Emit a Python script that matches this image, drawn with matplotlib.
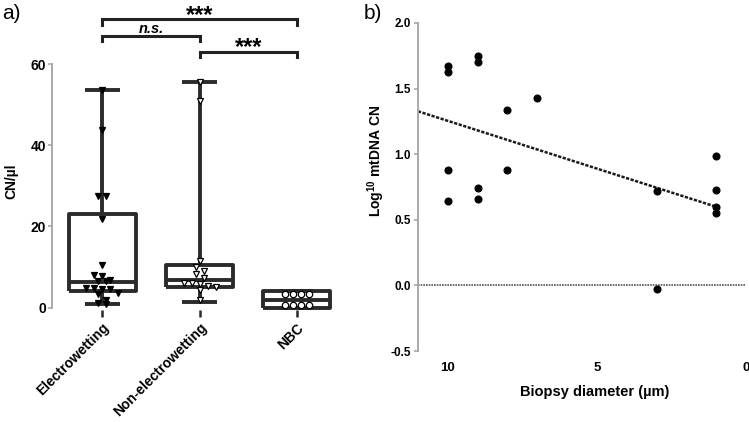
import numpy as np
import matplotlib
matplotlib.use("Agg")
import matplotlib.pyplot as plt

plt.rcParams['font.family'] = ['Liberation Sans', 'DejaVu Sans']
plt.rcParams['font.weight'] = 'bold'
plt.rcParams['axes.unicode_minus'] = False
plt.rcParams['mathtext.fontset'] = 'custom'
plt.rcParams['mathtext.rm'] = 'Liberation Sans:bold'
plt.rcParams['mathtext.bf'] = 'Liberation Sans:bold'

# ---- panel a data (CN/ul) ----
groups = ['Electrowetting', 'Non-electrowetting', 'NBC']
electrowetting = [53.7, 43.7, 27.4, 27.4, 21.8, 10.6, 8.1, 7.9, 6.8, 6.6, 6.6,
                  4.8, 4.8, 4.7, 4.6, 3.6, 3.3, 1.9, 1.1, 0.8]
non_electrowetting = [55.7, 51.0, 11.6, 9.9, 9.0, 8.2, 7.4, 6.0, 6.0, 5.8, 5.3,
                      5.2, 4.4, 1.8]
nbc = [3.4, 3.4, 3.4, 3.4, 0.6, 0.6, 0.6, 0.6]
# box statistics as drawn (min, q1, median, q3, max)
box_min = [0.8, 1.5, 0.0]
box_q1 = [4.1, 5.0, 0.0]
box_med = [6.3, 6.9, 2.0]
box_q3 = [23.0, 10.4, 4.0]
box_max = [53.7, 55.7, 4.0]
# significance brackets: (left group, right group, label, height)
brackets = [(0, 2, '***', 71.1), (0, 1, 'n.s.', 67.0), (1, 2, '***', 63.1)]

# ---- panel b data ----
diameter = [10, 10, 10, 10, 9, 9, 9, 9, 8, 8, 7, 3, 3, 1, 1, 1, 1]
log_cn = [1.67, 1.63, 0.88, 0.64, 1.75, 1.70, 0.74, 0.66, 1.34, 0.88, 1.43,
          0.72, -0.03, 0.99, 0.73, 0.60, 0.55]

DARK = '#2b2b2b'
GREY = '#a8a8a8'

fig = plt.figure(figsize=(7.49, 4.22), dpi=100)


def row_offsets(values, row_gap, step):
    """Centre points of similar height side by side (simple swarm)."""
    order = np.argsort(values)[::-1]
    offs = np.zeros(len(values))
    rows = []
    for i in order:
        if rows and rows[-1][0] - values[i] < row_gap:
            rows[-1][1].append(i)
        else:
            rows.append([values[i], [i]])
    for _, idx in rows:
        n = len(idx)
        for k, i in enumerate(idx):
            offs[i] = (k - (n - 1) / 2) * step
    return offs


# ---------------- panel a ----------------
ax = fig.add_axes([0.0688, 0.2661, 0.3923, 0.7263])
ax.set_xlim(-0.523, 2.5)
ax.set_ylim(-0.5, 75)

stats = []
for i in range(3):
    stats.append(dict(whislo=box_min[i], q1=box_q1[i], med=box_med[i],
                      q3=box_q3[i], whishi=box_max[i], fliers=[]))
lp = dict(color=DARK, linewidth=2.8, solid_capstyle='butt')
ax.bxp(stats, positions=[0, 1, 2], widths=0.69, capwidths=0.36,
       showfliers=False, boxprops=lp, medianprops=lp, whiskerprops=lp,
       capprops=lp, manage_ticks=False)

unit_px = 0.7263 * 422 / 75.5
step = 8.0 / (0.3923 * 749 / 3.023)
styles = [dict(marker='v', mfc='black', mec='black'),
          dict(marker='v', mfc='white', mec='black'),
          dict(marker='o', mfc='white', mec='black')]
for i, vals in enumerate([electrowetting, non_electrowetting, nbc]):
    vals = np.array(vals)
    offs = row_offsets(vals, 6.0 / unit_px, step)
    ax.plot(i + offs, vals, ls='none', ms=4.6, mew=0.9, zorder=5,
            clip_on=False, **styles[i])

leg = 1.35
for a, b, lab, y in brackets:
    ax.plot([a, a, b, b], [y - leg, y, y, y - leg], color='#222222', lw=2.2,
            clip_on=False, solid_joinstyle='miter')
    if lab == 'n.s.':
        ax.annotate(lab, xy=((a + b) / 2, y), xytext=(0, 2.0),
                    textcoords='offset points', ha='center', va='baseline',
                    fontsize=10.5, style='italic', fontweight='bold')
    else:
        ax.annotate(lab, xy=((a + b) / 2, y), xytext=(0, -1.8),
                    textcoords='offset points', ha='center', va='baseline',
                    fontsize=17, fontweight='bold')

for s in ['top', 'right', 'bottom']:
    ax.spines[s].set_visible(False)
ax.spines['left'].set_color(GREY)
ax.spines['left'].set_linewidth(1.4)
ax.spines['left'].set_bounds(0, 60)
ax.set_yticks([0, 20, 40, 60])
ax.tick_params(axis='y', colors=GREY, length=3, width=1.2, pad=1,
               labelcolor='black', labelsize=10)
ax.set_xticks([0, 1, 2])
ax.set_xticklabels(groups, rotation=45, ha='right', va='top',
                   rotation_mode='anchor', fontsize=10)
ax.tick_params(axis='x', color=DARK, length=5, width=1.8, pad=3)
ax.set_ylabel('CN/µl', fontsize=10, fontweight='bold')
ax.yaxis.set_label_coords(-0.114, 0.42)

# ---------------- panel b ----------------
bx = fig.add_axes([0.558, 0.1682, 0.4383, 0.7773])
bx.set_xlim(11, 0)
bx.set_ylim(-0.5, 2.0)
bx.axhline(0, color='#555555', lw=1.2, ls=(0, (1, 0.6)), zorder=1)
slope, icpt = np.polyfit(diameter, log_cn, 1)
xl = np.array([11, min(diameter)])
bx.plot(xl, slope * xl + icpt, color='#1a1a1a', lw=1.8, ls=(0, (1.3, 0.6)),
        zorder=2)
bx.plot(diameter, log_cn, ls='none', marker='o', ms=4.8, color='black',
        zorder=3)
for s in ['top', 'right', 'bottom']:
    bx.spines[s].set_visible(False)
bx.spines['left'].set_color(GREY)
bx.spines['left'].set_linewidth(1.4)
bx.set_yticks([-0.5, 0.0, 0.5, 1.0, 1.5, 2.0])
bx.set_yticklabels(['%.1f' % v for v in [-0.5, 0.0, 0.5, 1.0, 1.5, 2.0]])
bx.tick_params(axis='y', colors=GREY, length=3, width=1.2, pad=2,
               labelcolor='black', labelsize=8.5)
bx.set_xticks([10, 5, 0])
bx.tick_params(axis='x', length=0, pad=8, labelsize=9.5)
bx.set_xlabel('Biopsy diameter (µm)', fontsize=10.5, fontweight='bold')
bx.xaxis.set_label_coords(0.539, -0.104)
bx.set_ylabel(r'Log$^{10}$ mtDNA CN', fontsize=10, fontweight='bold')
bx.yaxis.set_label_coords(-0.095, 0.58)

fig.text(0.003, 0.99, 'a)', fontsize=15, fontweight='normal', va='top')
fig.text(0.485, 0.99, 'b)', fontsize=15, fontweight='normal', va='top')

fig.savefig('out.png', dpi=100)
